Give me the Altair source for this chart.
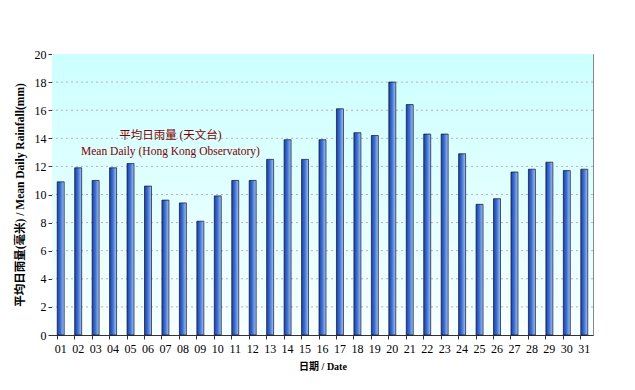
import altair as alt
import pandas as pd

days = [f"{d:02d}" for d in range(1, 32)]
rain = [10.9, 11.9, 11.0, 11.9, 12.2, 10.6, 9.6, 9.4, 8.1, 9.9,
        11.0, 11.0, 12.5, 13.9, 12.5, 13.9, 16.1, 14.4, 14.2, 18.0,
        16.4, 14.3, 14.3, 12.9, 9.3, 9.7, 11.6, 11.8, 12.3, 11.7, 11.8]
y_ticks = list(range(0, 21, 2))
grid_vals = list(range(2, 20, 2))
note_lines = ["平均日雨量 (天文台)", "Mean Daily (Hong Kong Observatory)"]
note_day = ["07", "07"]
note_y = [14.15, 13.0]

df = pd.DataFrame({"day": days, "rain": rain})
notes = pd.DataFrame({"day": note_day, "rain": note_y, "text": note_lines})
grid_df = pd.DataFrame({"rain": grid_vals})

FONT = "Liberation Serif, Noto Sans CJK TC"

yaxis = alt.Axis(title="平均日雨量(毫米) / Mean Daily Rainfall(mm)", values=y_ticks,
                 labelFont=FONT, labelFontSize=12, labelColor="#000",
                 titleFont=FONT, titleFontSize=11.5, titleFontWeight="bold",
                 titleColor="#000", titlePadding=9,
                 tickSize=4, tickColor="#333", domainColor="#333", grid=False)
yscale = alt.Scale(domain=[0, 20])

xenc = alt.X("day:N", sort=days, scale=alt.Scale(paddingInner=0.6, paddingOuter=0.3),
             axis=alt.Axis(title="日期 / Date", labelAngle=0, bandPosition=0,
                           labelFont=FONT, labelFontSize=12, labelColor="#000",
                           titleFont=FONT, titleFontSize=10, titleFontWeight="bold",
                           titleColor="#000", titlePadding=7,
                           tickSize=4, tickColor="#333", domainColor="#333",
                           labelPadding=4, grid=False))
yenc = alt.Y("rain:Q", scale=yscale, axis=yaxis)

bg = alt.Chart(pd.DataFrame({"a": [0]})).mark_rect(
    color=alt.Gradient(gradient="linear", x1=0, y1=0, x2=0, y2=1,
                       stops=[alt.GradientStop(offset=0, color="#ccffff"),
                              alt.GradientStop(offset=1, color="#f8ffff")])
).encode(x=alt.value(0), x2=alt.value("width"), y=alt.value(0), y2=alt.value("height"))

grid = alt.Chart(grid_df).mark_rule(
    color="#b4b4b4", strokeDash=[2, 3], strokeWidth=1
).encode(y=yenc)

bars = alt.Chart(df).mark_bar(
    color=alt.Gradient(
        gradient="linear", x1=0, y1=0, x2=1, y2=0,
        stops=[alt.GradientStop(offset=0, color="#1c40a8"),
               alt.GradientStop(offset=0.45, color="#3c6fd2"),
               alt.GradientStop(offset=1, color="#a6c6f0")]),
    stroke="#0a1030", strokeWidth=0.7
).encode(x=xenc, y=yenc)

text = alt.Chart(notes).mark_text(
    font=FONT, fontSize=11.5, color="#800000", dx=5
).encode(x=alt.X("day:N", sort=days), y=yenc, text="text:N")

chart = alt.layer(bg, grid, bars, text).properties(
    width=541, height=281,
    autosize=alt.AutoSizeParams(type="none"),
    padding={"left": 44, "top": 46, "right": 30, "bottom": 40},
).configure_view(
    stroke="#888888", strokeWidth=1
)

chart.save("out.html", embed_options={"renderer": "svg", "actions": False})
